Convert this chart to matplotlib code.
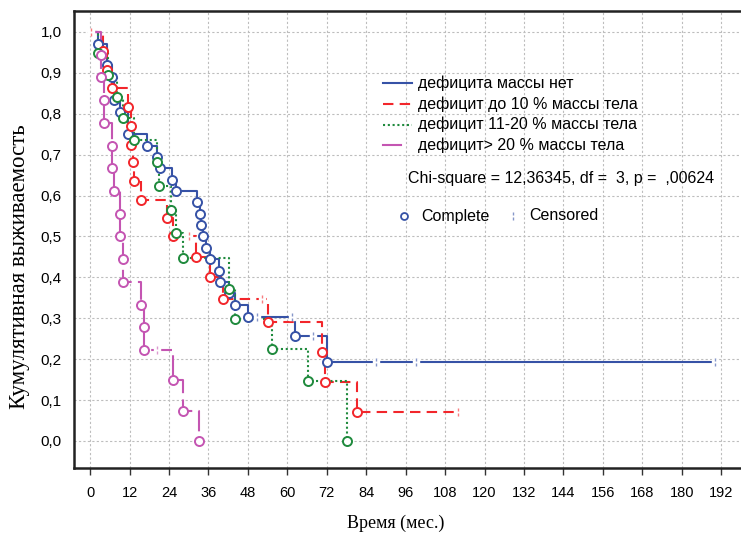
import numpy as np
import matplotlib
matplotlib.use('Agg')
from matplotlib import pyplot as plt
from matplotlib.lines import Line2D
from matplotlib.path import Path

# event times (months) and survival after each event
blue_t = [2.35, 5.2, 6.55, 7.35, 9.2, 11.5, 17.25, 20.5, 21.25, 24.8, 26.2, 32.4, 33.4, 33.7,
          34.3, 35.2, 36.5, 39.2, 39.5, 42.3, 44.1, 48.1, 62.3, 72.1]
blue_s = [0.971, 0.918, 0.889, 0.833, 0.805, 0.750, 0.722, 0.694, 0.667, 0.639, 0.611, 0.583,
          0.556, 0.528, 0.500, 0.472, 0.444, 0.416, 0.388, 0.361, 0.333, 0.302, 0.257, 0.194]
blue_cens = [50.7, 61.3, 67.9, 86.9, 99.0, 190.0]

red_t = [4.0, 5.2, 6.55, 11.4, 12.35, 12.55, 13.1, 13.3, 15.4, 23.5, 25.1, 32.3, 36.5, 40.5,
         54.2, 70.5, 71.4, 81.2]
red_s = [0.954, 0.907, 0.864, 0.817, 0.771, 0.724, 0.682, 0.636, 0.589, 0.544, 0.501, 0.450,
         0.402, 0.347, 0.290, 0.218, 0.145, 0.072]
red_cens = [0.3, 30.0, 52.2, 112.0]

green_t = [2.35, 5.4, 8.3, 10.1, 13.3, 20.5, 21.1, 24.5, 26.2, 28.3, 42.3, 44.1, 55.2, 66.3, 78.0]
green_s = [0.948, 0.895, 0.842, 0.789, 0.736, 0.682, 0.623, 0.565, 0.508, 0.448, 0.372, 0.298,
           0.224, 0.147, 0.0]
green_cens = []

mag_t = [3.2, 3.2, 4.2, 4.2, 6.55, 6.55, 7.35, 9.1, 9.1, 9.9, 9.9, 15.4, 16.4, 16.4, 25.1, 28.3, 33.2]
mag_s = [0.944, 0.889, 0.833, 0.778, 0.722, 0.667, 0.611, 0.556, 0.500, 0.444, 0.389, 0.333,
         0.278, 0.222, 0.148, 0.074, 0.0]
mag_cens = [20.2]

labels = ['дефицита массы нет', 'дефицит до 10 % массы тела',
          'дефицит 11-20 % массы тела', 'дефицит> 20 % массы тела']
stats_text = 'Chi-square = 12,36345, df =  3, p =  ,00624'
x_ticks = list(range(0, 193, 12))
y_ticks = [i / 10 for i in range(0, 11)]

colors = ['#3652a6', '#f2262b', '#1f8a3d', '#c455b2']
styles = ['-', (0, (5, 3)), (0, (1, 1.3)), (0, (10, 3))]

W, H = 741, 540
fig = plt.figure(figsize=(W / 100, H / 100), dpi=100)
ax = fig.add_axes([74 / W, 1 - 468 / H, 1 - 74 / W, (468 - 11) / H])
ax.set_xlim(-4.9, 198)
ax.set_ylim(-0.066, 1.051)

cens_marker = Path([(0, 0.35), (0, 1), (0, -0.35), (0, -1)],
                   [Path.MOVETO, Path.LINETO, Path.MOVETO, Path.LINETO])


def surv_at(t_list, s_list, t):
    s = 1.0
    for ti, si in zip(t_list, s_list):
        if ti <= t:
            s = si
    return s


groups = [(blue_t, blue_s, blue_cens), (red_t, red_s, red_cens),
          (green_t, green_s, green_cens), (mag_t, mag_s, mag_cens)]

for (t, s, cens), c, ls in zip(groups, colors, styles):
    end = max(t + cens)
    xs = [0] + t + [end]
    ys = [1.0] + s + [s[-1]]
    ax.step(xs, ys, where='post', color=c, linestyle=ls, lw=1.5, zorder=3)
    ax.plot(t, s, 'o', ms=6.5, mfc='white', mec=c, mew=1.4, linestyle='none', zorder=4)
    if cens:
        cs = [surv_at(t, s, ci) for ci in cens]
        ax.plot(cens, cs, 's', ms=4, mfc='white', mec='white', linestyle='none', zorder=4)
        ax.plot(cens, cs, marker=cens_marker, ms=6, mec=c, mew=1.0, alpha=0.6,
                linestyle='none', zorder=5)

ax.set_xticks(x_ticks)
ax.set_xticklabels([str(v) for v in x_ticks], fontsize=10.5, family='Liberation Sans')
ax.set_yticks(y_ticks)
ax.set_yticklabels([('%.1f' % v).replace('.', ',') for v in y_ticks], fontsize=11,
                   family='Liberation Sans')
ax.tick_params(axis='x', direction='out', length=5, width=1, color='#333333', pad=8)
ax.tick_params(axis='y', length=0, pad=9)
ax.grid(True, color='#bdbdbd', linestyle=(0, (2, 2)), lw=0.8)
ax.set_axisbelow(True)
for side in ['left', 'bottom', 'top']:
    ax.spines[side].set_linewidth(1.8)
    ax.spines[side].set_color('#222222')
ax.spines['right'].set_visible(False)


def fp(x, y):
    return x / W, 1 - y / H


# axis titles
fig.text(*fp(396, 523), 'Время (мес.)', fontsize=13, family='Liberation Serif',
         ha='center', va='center')
fig.text(*fp(20, 267), 'Кумулятивная выживаемость', fontsize=16.5, family='Liberation Serif',
         ha='center', va='center', rotation=90)

# legend drawn by hand
fs = 11.5
rows = [83, 104, 124.5, 145]
for lab, c, ls, y in zip(labels, colors, styles, rows):
    x_end = 401 if ls == styles[3] else 412
    (x0, y0), (x1, _) = fp(383, y), fp(x_end, y)
    fig.add_artist(Line2D([x0, x1], [y0, y0], transform=fig.transFigure, color=c,
                          linestyle='-' if ls == styles[3] else ls, lw=1.5))
    fig.text(*fp(418, y), lab, fontsize=fs, family='Liberation Sans', va='center', ha='left')

fig.text(*fp(408, 179), stats_text, fontsize=fs, family='Liberation Sans', va='center', ha='left')

fig.add_artist(Line2D([fp(404, 216)[0]], [fp(404, 216)[1]], transform=fig.transFigure,
                      marker='o', ms=5, mfc='white', mec=colors[0], mew=1.3, linestyle='none'))
fig.text(*fp(421, 216), 'Complete', fontsize=fs, family='Liberation Sans', va='center', ha='left')
fig.add_artist(Line2D([fp(513, 216)[0]], [fp(513, 216)[1]], transform=fig.transFigure,
                      marker=cens_marker, ms=6, mec=colors[0], mew=1.0, alpha=0.6,
                      linestyle='none'))
fig.text(*fp(529, 216), 'Censored', fontsize=fs, family='Liberation Sans', va='center', ha='left')

fig.savefig('out.png', dpi=100)
